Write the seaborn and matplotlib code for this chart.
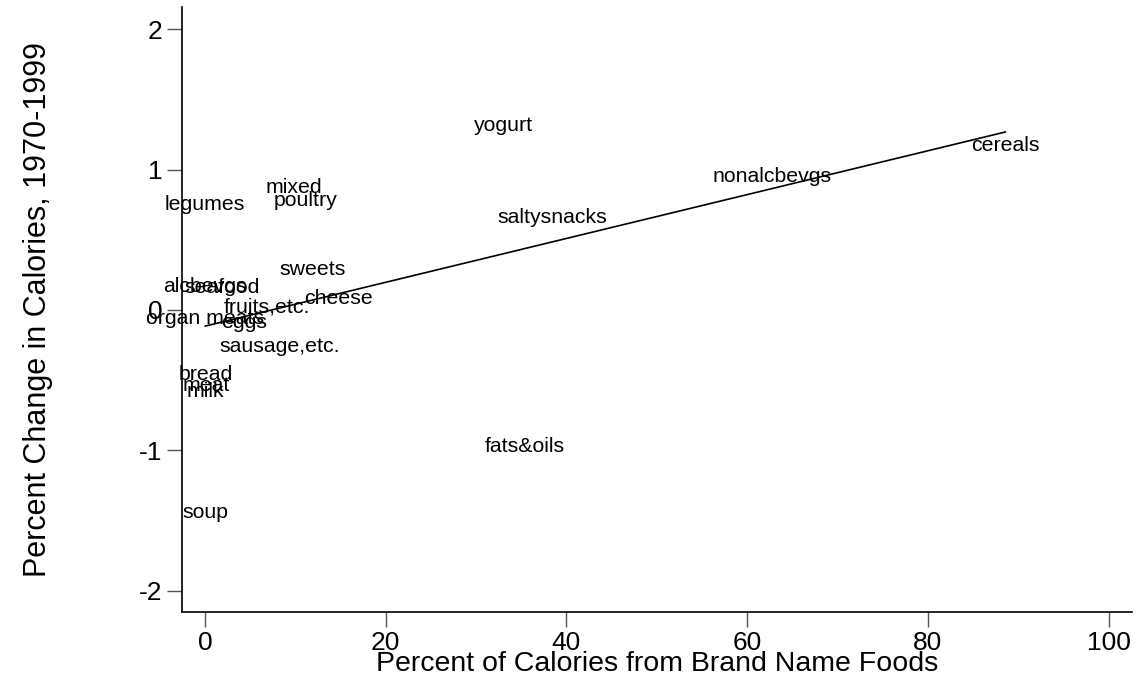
import matplotlib
matplotlib.use("Agg")
import matplotlib.pyplot as plt
import numpy as np
import pandas as pd
import seaborn as sns

# Food groups: share of calories from brand-name foods vs. change in calories
foods = ["yogurt", "cereals", "nonalcbevgs", "saltysnacks", "mixed", "poultry",
         "legumes", "sweets", "alcbevgs", "seafood", "cheese", "fruits,etc.",
         "organ meats", "eggs", "sausage,etc.", "bread", "meat", "milk",
         "fats&oils", "soup"]
brand_share = [33.0, 88.6, 62.8, 38.4, 9.8, 11.1,
               0.0, 11.9, 0.0, 1.9, 14.8, 6.8,
               0.0, 4.3, 8.3, 0.1, 0.1, 0.0,
               35.4, 0.0]
cal_change = [1.31, 1.17, 0.95, 0.66, 0.87, 0.78,
              0.75, 0.29, 0.17, 0.16, 0.08, 0.02,
              -0.06, -0.09, -0.26, -0.46, -0.54, -0.58,
              -0.97, -1.44]

x_ticks = [0, 20, 40, 60, 80, 100]
y_ticks = [-2, -1, 0, 1, 2]

df = pd.DataFrame({"food": foods, "brand": brand_share, "change": cal_change})

sns.set_style("ticks")
plt.rcParams["font.family"] = ["Liberation Sans", "DejaVu Sans"]
plt.rcParams["text.color"] = "black"
plt.rcParams["axes.labelcolor"] = "black"

fig = plt.figure(figsize=(11.38, 6.79), dpi=100)
ax = fig.add_axes([182 / 1138, 1 - 612 / 679, (1132 - 182) / 1138, (612 - 7) / 679])

# Linear fit over the observed range
sns.regplot(data=df, x="brand", y="change", scatter=False, ci=None,
            truncate=True, color="black", line_kws={"lw": 1.2}, ax=ax)

# Each observation is shown by its name, centred on the point
for name, xv, yv in zip(df["food"], df["brand"], df["change"]):
    ax.text(xv, yv, name, ha="center", va="center", fontsize=15.3, color="black")

ax.set_xlim(-2.55, 102.6)
ax.set_ylim(-2.15, 2.157)
ax.set_xticks(x_ticks)
ax.set_yticks(y_ticks)
ax.tick_params(axis="both", direction="out", length=11, width=1,
               color="#555555", labelcolor="black", labelsize=19, pad=3)
ax.set_yticklabels([str(v) for v in y_ticks])

ax.set_xlabel("Percent of Calories from Brand Name Foods", fontsize=20.5, labelpad=-3)
ax.set_ylabel("Percent Change in Calories, 1970-1999", fontsize=22, labelpad=62)

for side in ["top", "right"]:
    ax.spines[side].set_visible(False)
for side in ["left", "bottom"]:
    ax.spines[side].set_color("black")
    ax.spines[side].set_linewidth(1.2)

fig.savefig("out.png", dpi=100, facecolor="white")
